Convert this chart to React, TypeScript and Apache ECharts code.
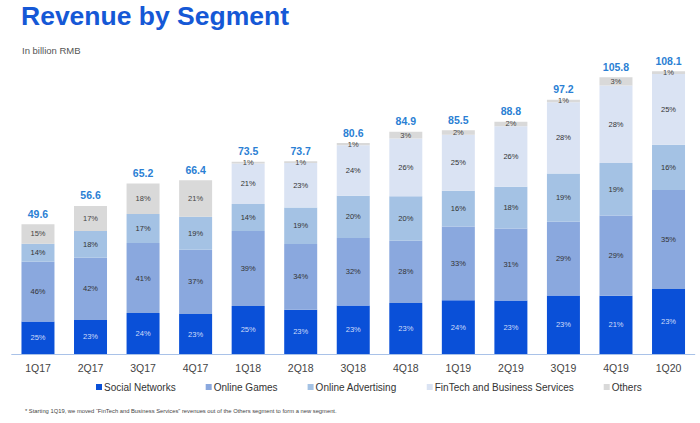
import React, { useEffect, useRef } from "react";
import * as echarts from "echarts";

const categories = ["1Q17", "2Q17", "3Q17", "4Q17", "1Q18", "2Q18", "3Q18", "4Q18", "1Q19", "2Q19", "3Q19", "4Q19", "1Q20"];
const totals = [49.6, 56.6, 65.2, 66.4, 73.5, 73.7, 80.6, 84.9, 85.5, 88.8, 97.2, 105.8, 108.1];
const socialPct = [25, 23, 24, 23, 25, 23, 23, 23, 24, 23, 23, 21, 23];
const gamesPct = [46, 42, 41, 37, 39, 34, 32, 28, 33, 31, 29, 29, 35];
const adsPct = [14, 18, 17, 19, 14, 19, 20, 20, 16, 18, 19, 19, 16];
const fintechPct: (number | null)[] = [null, null, null, null, 21, 23, 24, 26, 25, 26, 28, 28, 25];
const othersPct = [15, 17, 18, 21, 1, 1, 1, 3, 2, 2, 1, 3, 1];

const seriesNames = ["Social Networks", "Online Games", "Online Advertising", "FinTech and Business Services", "Others"];
const seriesPcts = [socialPct, gamesPct, adsPct, fintechPct, othersPct];
const seriesColors = ["#0a50d8", "#8aa8de", "#a4c2e4", "#dae3f3", "#d9d9d9"];
const labelColors = ["#cfdcf8", "#333333", "#333333", "#333333", "#444444"];

const FONT = "'Liberation Sans', Arial, sans-serif";

export default function App() {
  const ref = useRef<HTMLDivElement>(null);
  useEffect(() => {
    if (!ref.current) return;
    const chart = echarts.init(ref.current, undefined, { renderer: "svg" });
    const barSeries: any[] = seriesPcts.map((pcts, si) => ({
      name: seriesNames[si],
      type: "bar",
      stack: "rev",
      barWidth: 33,
      itemStyle: { color: seriesColors[si] },
      label: {
        show: true,
        position: "inside",
        fontSize: 7.5,
        fontFamily: FONT,
        color: labelColors[si],
        formatter: (p: any) => (p.data && p.data.pct != null ? p.data.pct + "%" : ""),
      },
      data: pcts.map((pct, i) =>
        pct == null ? { value: 0, pct: null } : { value: (totals[i] * pct) / 100, pct }
      ),
    }));
    barSeries.push({
      name: "Total",
      type: "bar",
      stack: "rev",
      barWidth: 33,
      silent: true,
      itemStyle: { color: "rgba(0,0,0,0)" },
      label: {
        show: true,
        position: "top",
        distance: 5,
        fontSize: 10.5,
        fontWeight: "bold",
        fontFamily: FONT,
        color: "#2b7fd4",
        formatter: (p: any) => totals[p.dataIndex].toFixed(1),
      },
      data: totals.map(() => 0),
    });

    chart.setOption({
      animation: false,
      textStyle: { fontFamily: FONT },
      title: [
        {
          text: "Revenue by Segment",
          left: 21,
          top: 2,
          padding: 0,
          textStyle: { fontSize: 26.5, fontWeight: "bold", color: "#1558d6", fontFamily: FONT },
        },
        {
          text: "In billion RMB",
          left: 22,
          top: 45,
          padding: 0,
          textStyle: { fontSize: 9.5, fontWeight: "normal", color: "#555555", fontFamily: FONT },
        },
        {
          text: "* Starting 1Q19, we moved \u201CFinTech and Business Services\u201D revenues out of the Others segment to form a new segment.",
          left: 25,
          top: 408,
          padding: 0,
          textStyle: { fontSize: 5.8, fontWeight: "normal", color: "#444444", fontFamily: FONT },
        },
      ],
      legend: {
        data: seriesNames,
        left: 96,
        top: 382,
        padding: 0,
        itemWidth: 6,
        itemHeight: 6,
        itemGap: 30,
        icon: "rect",
        textStyle: { fontSize: 10, color: "#333333", fontFamily: FONT, padding: [0, 0, 0, -3] },
      },
      grid: { left: 11.7, right: 5.2, top: 40, bottom: 69, containLabel: false },
      xAxis: {
        type: "category",
        data: categories,
        axisLine: { show: true, lineStyle: { color: "#a9c2e8", width: 1 } },
        axisTick: { show: false },
        axisLabel: { fontSize: 10.5, color: "#444444", margin: 8, fontFamily: FONT },
      },
      yAxis: {
        type: "value",
        min: 0,
        max: 120,
        show: false,
        splitLine: { show: false },
      },
      series: barSeries,
    });
    return () => chart.dispose();
  }, []);
  return <div ref={ref} style={{ width: 700, height: 423, position: "absolute", left: 0, top: 0, background: "#ffffff" }} />;
}
